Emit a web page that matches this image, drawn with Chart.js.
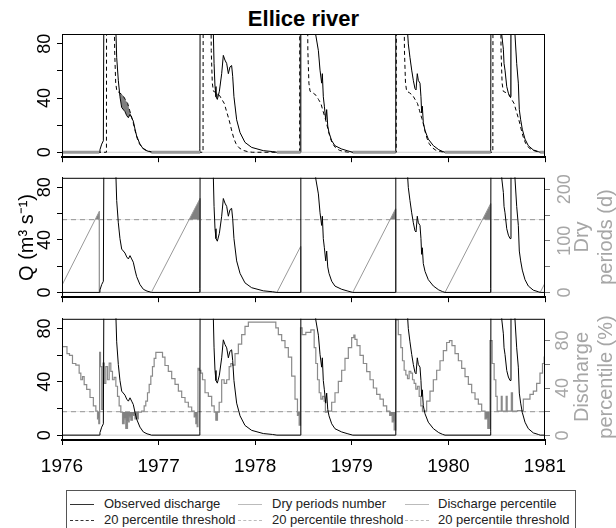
<!DOCTYPE html>
<html lang="en">
<head>
<meta charset="utf-8">
<title>Ellice river</title>
<script src="https://cdn.jsdelivr.net/npm/chart.js@4.4.1/dist/chart.umd.min.js"></script>
<style>
    html, body { margin: 0; padding: 0; background: #fff; }
    body { position: relative; width: 616px; height: 528px; overflow: hidden; font-family: "Liberation Sans", Arial, sans-serif; }
    canvas { position: absolute; left: 0; }
    #titulo { position: absolute; left: 62px; width: 483px; top: 6px; text-align: center; font-size: 22px; line-height: 26px; font-weight: bold; color: #000; }
    .titulo-der { position: absolute; width: 160px; height: 48px; font-size: 20px; line-height: 24px; color: #a6a6a6; text-align: center; white-space: nowrap; transform: rotate(-90deg); }
    #leyenda { position: absolute; left: 66px; top: 490px; width: 510px; height: 50px; border: 1px solid #555; box-sizing: border-box; font-size: 13px; color: #222; }
    .texto { position: absolute; line-height: 16px; white-space: nowrap; }
    .muestra { position: absolute; width: 24px; height: 0; }
</style>
</head>
<body>
<div id="titulo">Ellice river</div>
<canvas id="panel-caudal" width="616" height="170" style="top:0px"></canvas>
<canvas id="panel-seco" width="616" height="145" style="top:165px"></canvas>
<canvas id="panel-percentil" width="616" height="175" style="top:305px"></canvas>
<div class="titulo-der" style="left:513px; top:213px">Dry<br>periods (d)</div>
<div class="titulo-der" style="left:513px; top:353px">Discharge<br>percentile (%)</div>
<div id="leyenda">
    <div class="muestra" style="left:3px; top:13px; border-top:1px solid #333"></div>
    <div class="texto" style="left:37px; top:5px">Observed discharge</div>
    <div class="muestra" style="left:3px; top:29px; border-top:1px dashed #333"></div>
    <div class="texto" style="left:37px; top:21px">20 percentile threshold</div>
    <div class="muestra" style="left:171px; top:13px; border-top:1px solid #bbb"></div>
    <div class="texto" style="left:205px; top:5px">Dry periods number</div>
    <div class="muestra" style="left:171px; top:29px; border-top:1px dashed #bbb"></div>
    <div class="texto" style="left:205px; top:21px">20 percentile threshold</div>
    <div class="muestra" style="left:338px; top:13px; border-top:1px solid #bbb"></div>
    <div class="texto" style="left:371px; top:5px">Discharge percentile</div>
    <div class="muestra" style="left:338px; top:29px; border-top:1px dashed #bbb"></div>
    <div class="texto" style="left:371px; top:21px">20 percentile threshold</div>
</div>
<script>
// Ticks y etiquetas de los ejes
const ticksAnios = [1976, 1977, 1978, 1979, 1980, 1981];
const ticksCaudal = [0, 20, 40, 60, 80];
const etiquetasCaudal = [0, 40, 80];
const ticksDias = [0, 50, 100, 150, 200];
const etiquetasDias = [0, 100, 200];
const ticksPercentil = [0, 20, 40, 60, 80];
const etiquetasPercentil = [0, 40, 80];

// Umbrales
const umbralDias = 141;
const umbralPercentil = 20;

// Caudal observado (m3/s), años decimales
const fechasCaudal = [
    1976.000, 1976.386, 1976.393, 1976.411, 1976.428, 1976.436, 1976.555, 1976.559, 1976.566, 1976.583,
    1976.600, 1976.618, 1976.652, 1976.670, 1976.687, 1976.704, 1976.721, 1976.738, 1976.756, 1976.773,
    1976.807, 1976.842, 1976.880, 1976.911, 1976.925,
    1977.421, 1977.427, 1977.431, 1977.562, 1977.567, 1977.574, 1977.584, 1977.594, 1977.608, 1977.629,
    1977.653, 1977.670, 1977.687, 1977.705, 1977.722, 1977.739, 1977.756, 1977.767, 1977.780, 1977.808,
    1977.843, 1977.894, 1977.963, 1978.084, 1978.180, 1978.225,
    1978.468, 1978.471, 1978.474, 1978.620, 1978.626, 1978.654, 1978.671, 1978.688, 1978.695, 1978.705,
    1978.716, 1978.730, 1978.740, 1978.751, 1978.764, 1978.792, 1978.826, 1978.895, 1978.960, 1979.010,
    1979.451, 1979.454, 1979.457, 1979.574, 1979.579, 1979.585, 1979.602, 1979.620, 1979.637, 1979.654,
    1979.665, 1979.678, 1979.689, 1979.706, 1979.716, 1979.723, 1979.730, 1979.740, 1979.758, 1979.792,
    1979.844, 1979.900, 1979.940, 1979.965,
    1980.435, 1980.438, 1980.441, 1980.547, 1980.552, 1980.569, 1980.576, 1980.586, 1980.604, 1980.621,
    1980.638, 1980.648, 1980.684, 1980.689, 1980.707, 1980.724, 1980.734, 1980.748, 1980.765, 1980.793,
    1980.827, 1980.879, 1980.931, 1980.950, 1981.000
];
const caudalObservado = [
    0, 0, 1.9, 6, 8.5, 150, 150, 87, 70, 53,
    41, 33, 30, 27, 25.5, 28, 25.5, 23, 17, 12,
    6, 2.4, 1, 0.4, 0,
    0, 3, 150, 150, 87, 65.5, 48.5, 41, 39, 45,
    58, 71.5, 68, 65.5, 58, 63, 64, 56, 41, 24,
    14.5, 7.3, 3.6, 1.2, 0.5, 0,
    0, 3, 150, 150, 87, 75, 60.6, 51, 58, 41,
    34, 24, 31.5, 19.4, 14.5, 8.5, 4.8, 2.4, 1, 0,
    0, 3, 150, 150, 87, 80, 70, 60.6, 53, 47,
    46, 58, 53, 51, 41, 29, 34, 22, 16, 9.7,
    4.9, 1.9, 0.6, 0,
    0, 3, 150, 150, 87, 76, 65.5, 60.6, 48.5, 43.6,
    41, 150, 150, 87, 65.5, 51, 31.5, 24, 17, 9.7,
    4.9, 1.7, 0.5, 0, 0
];

// Umbral del percentil 20 (caudal diario)
const fechasUmbral = [
    1976.000, 1976.460, 1976.462, 1976.538, 1976.545, 1976.549, 1976.556, 1976.568, 1976.595, 1976.630, 1976.655,
    1976.680, 1976.700, 1976.725, 1976.740, 1976.760, 1976.780, 1976.800, 1976.830, 1976.870, 1976.920, 1976.970,
    1977.460, 1977.462, 1977.538, 1977.545, 1977.549, 1977.556, 1977.568, 1977.595, 1977.630, 1977.655,
    1977.680, 1977.700, 1977.725, 1977.740, 1977.760, 1977.780, 1977.800, 1977.830, 1977.870, 1977.920, 1977.970,
    1978.460, 1978.462, 1978.538, 1978.545, 1978.549, 1978.556, 1978.568, 1978.595, 1978.630, 1978.655,
    1978.680, 1978.700, 1978.725, 1978.740, 1978.760, 1978.780, 1978.800, 1978.830, 1978.870, 1978.920, 1978.970,
    1979.460, 1979.462, 1979.538, 1979.545, 1979.549, 1979.556, 1979.568, 1979.595, 1979.630, 1979.655,
    1979.680, 1979.700, 1979.725, 1979.740, 1979.760, 1979.780, 1979.800, 1979.830, 1979.870, 1979.920, 1979.970,
    1980.460, 1980.462, 1980.538, 1980.545, 1980.549, 1980.556, 1980.568, 1980.595, 1980.630, 1980.655,
    1980.680, 1980.700, 1980.725, 1980.740, 1980.760, 1980.780, 1980.800, 1980.830, 1980.870, 1980.920, 1980.970,
    1981.000
];
const umbralCaudal = [
    0, 0, 150, 150, 75, 66, 51, 45, 44, 42, 39,
    36, 31, 25, 21, 15, 10, 6.5, 3.5, 1.5, 0.5, 0,
    0, 150, 150, 75, 66, 51, 45, 44, 42, 39,
    36, 31, 25, 21, 15, 10, 6.5, 3.5, 1.5, 0.5, 0,
    0, 150, 150, 75, 66, 51, 45, 44, 42, 39,
    36, 31, 25, 21, 15, 10, 6.5, 3.5, 1.5, 0.5, 0,
    0, 150, 150, 75, 66, 51, 45, 44, 42, 39,
    36, 31, 25, 21, 15, 10, 6.5, 3.5, 1.5, 0.5, 0,
    0, 150, 150, 75, 66, 51, 45, 44, 42, 39,
    36, 31, 25, 21, 15, 10, 6.5, 3.5, 1.5, 0.5, 0,
    0
];

// Número de días del periodo seco
const fechasSeco = [
    1976.000, 1976.386, 1976.387, 1976.925, 1977.429, 1977.430, 1978.225, 1978.470, 1978.471,
    1979.010, 1979.453, 1979.454, 1979.965, 1980.437, 1980.438, 1980.950, 1981.000
];
const diasSecos = [
    14, 157, 0, 0, 182, 0, 0, 89, 0,
    0, 162, 0, 0, 172, 0, 0, 18
];

// Tramos con caudal cero (panel superior)
const inicioCero = [1976.000, 1976.925, 1978.225, 1979.010, 1979.965, 1980.950];
const finCero = [1976.386, 1977.430, 1978.470, 1979.454, 1980.438, 1981.000];

// Percentil del caudal (%)
const fechasPercentil = [
    1976.000, 1976.048, 1976.055, 1976.100, 1976.117, 1976.169, 1976.186, 1976.204, 1976.221, 1976.238,
    1976.273, 1976.307, 1976.342, 1976.359, 1976.376, 1976.386, 1976.393, 1976.404, 1976.418, 1976.431,
    1976.445, 1976.462, 1976.480, 1976.497, 1976.514, 1976.531, 1976.549, 1976.566, 1976.583, 1976.600,
    1976.618, 1976.635, 1976.652, 1976.669, 1976.687, 1976.704, 1976.721, 1976.738, 1976.773, 1976.807,
    1976.842, 1976.859, 1976.876, 1976.894, 1976.911, 1976.928, 1976.945, 1976.963, 1976.980, 1977.032,
    1977.049, 1977.083, 1977.118, 1977.153, 1977.187, 1977.222, 1977.256, 1977.291, 1977.325, 1977.360,
    1977.377, 1977.394, 1977.404, 1977.411, 1977.429, 1977.446, 1977.463, 1977.498, 1977.532, 1977.567,
    1977.584, 1977.601, 1977.618, 1977.636, 1977.670, 1977.687, 1977.722, 1977.739, 1977.756, 1977.774,
    1977.808, 1977.843, 1977.877, 1977.912, 1977.946, 1978.205, 1978.222, 1978.257, 1978.291, 1978.326,
    1978.360, 1978.395, 1978.429, 1978.446, 1978.464, 1978.474, 1978.498, 1978.550, 1978.602, 1978.619,
    1978.636, 1978.654, 1978.671, 1978.688, 1978.705, 1978.723, 1978.730, 1978.757, 1978.774, 1978.809,
    1978.843, 1978.878, 1978.912, 1978.947, 1978.981, 1979.016, 1979.026, 1979.040, 1979.068, 1979.102,
    1979.137, 1979.171, 1979.206, 1979.240, 1979.275, 1979.309, 1979.344, 1979.378, 1979.406, 1979.430,
    1979.447, 1979.464, 1979.499, 1979.516, 1979.533, 1979.551, 1979.568, 1979.585, 1979.602, 1979.620,
    1979.637, 1979.654, 1979.671, 1979.689, 1979.706, 1979.723, 1979.740, 1979.758, 1979.792, 1979.827,
    1979.861, 1979.896, 1979.930, 1979.965, 1979.999, 1980.023, 1980.051, 1980.086, 1980.120, 1980.155,
    1980.189, 1980.224, 1980.258, 1980.293, 1980.327, 1980.362, 1980.396, 1980.420, 1980.441, 1980.465,
    1980.482, 1980.500, 1980.510, 1980.544, 1980.551, 1980.562, 1980.593, 1980.603, 1980.614, 1980.648,
    1980.655, 1980.672, 1980.759, 1980.793, 1980.827, 1980.862, 1980.896, 1980.931, 1980.965, 1980.983,
    1981.000
];
const percentilCaudal = [
    75, 75, 69, 67.5, 60.7, 59.3, 52.5, 47, 49.7, 42.9,
    38.8, 32, 25, 20.5, 14, 10, 70, 58, 22, 61,
    44, 58, 47, 61, 54, 47, 49, 41.5, 33, 25,
    19.7, 10, 14, 6, 11.5, 15.6, 12.8, 17, 14, 19.7,
    20.5, 25, 29, 36, 43, 50, 58, 65, 70, 70,
    66, 59, 54, 48, 43, 37.4, 32, 28, 24, 20.5,
    15.6, 10, 7.4, 56.6, 55, 52.5, 47, 36, 33, 25,
    19.7, 12.8, 19.7, 28, 47, 44, 47, 58, 60.7, 59.3,
    69, 77, 85, 92, 95.6, 95.6, 90.7, 85, 80, 74,
    66, 50, 30.6, 17, 8.7, 90.7, 85, 87, 89, 74,
    60.7, 47, 36, 30.6, 33, 29, 19.7, 20.5, 20.5, 28,
    36, 45.6, 55, 65, 74, 82.5, 84.7, 81, 75.7, 67.5,
    60.7, 53.8, 47, 40, 34.7, 30.6, 25, 20.5, 17, 11.5,
    4.6, 97.5, 85, 74, 63, 55, 51, 48, 54, 52.5,
    47, 44, 39, 41.5, 33, 25, 20.5, 20.5, 29, 37.4,
    47, 55, 63, 71.6, 78.4, 80, 75.7, 69, 63, 56.6,
    49.7, 43, 36, 30.6, 26.5, 20.5, 14, 6, 80, 60.7,
    47, 33, 20.5, 20.5, 33, 20.5, 20.5, 33, 20.5, 20.5,
    36, 20.5, 21, 30.6, 30.6, 34.7, 37.4, 44, 52.5, 60.7,
    66
];

Chart.defaults.font.family = '"Liberation Sans", Arial, sans-serif';
Chart.defaults.animation = false;

const GRIS_RELLENO = '#808080';
const TRANSPARENTE = 'rgba(0,0,0,0)';

// Convierte dos arreglos en puntos {x, y}
function puntos(xs, ys) {
    return xs.map((x, i) => ({ x: x, y: ys[i] }));
}

// Tramos horizontales en cero separados por huecos
function tramosCero() {
    const datos = [];
    inicioCero.forEach((inicio, i) => {
        datos.push({ x: inicio, y: 0 }, { x: finCero[i], y: 0 }, { x: finCero[i], y: null });
    });
    return datos;
}

function lineaHorizontal(valor) {
    return [{ x: ticksAnios[0], y: valor }, { x: ticksAnios[ticksAnios.length - 1], y: valor }];
}

// Marco alrededor del área del gráfico
const marco = {
    id: 'marco',
    afterDatasetsDraw(chart) {
        const a = chart.chartArea;
        const ctx = chart.ctx;
        ctx.save();
        ctx.strokeStyle = '#000';
        ctx.lineWidth = 1;
        ctx.strokeRect(a.left + 0.5, a.top + 0.5, a.right - a.left - 1, a.bottom - a.top - 0.5);
        ctx.restore();
    }
};

function ejeX(conEtiquetas, alto) {
    return {
        type: 'linear',
        min: 1976,
        max: 1981,
        afterBuildTicks: s => { s.ticks = ticksAnios.map(v => ({ value: v })); },
        afterFit: s => { s.height = alto; },
        grid: { drawOnChartArea: false, drawTicks: true, tickLength: 5, color: '#000' },
        border: { display: true, color: '#000', width: 2 },
        ticks: {
            display: conEtiquetas,
            autoSkip: false,
            maxRotation: 0,
            padding: 10,
            color: '#000',
            font: { size: 19 },
            callback: v => String(v)
        }
    };
}

function ejeCaudal(conTitulo) {
    return {
        position: 'left',
        min: -3.64,
        max: 87.27,
        afterBuildTicks: s => { s.ticks = ticksCaudal.map(v => ({ value: v })); },
        afterFit: s => { s.width = 62; },
        grid: { drawOnChartArea: false, tickLength: 5, color: '#000' },
        border: { color: '#000' },
        ticks: {
            autoSkip: false,
            minRotation: 90,
            maxRotation: 90,
            crossAlign: 'center',
            padding: 2,
            color: '#000',
            font: { size: 18 },
            callback: v => etiquetasCaudal.includes(v) ? String(v) : ''
        },
        title: {
            display: conTitulo,
            text: 'Q (m³ s⁻¹)',
            color: '#000',
            font: { size: 20 },
            padding: { top: 15, bottom: 0 }
        }
    };
}

function ejeDerecho(min, max, ticks, etiquetas, relleno) {
    return {
        position: 'right',
        min: min,
        max: max,
        afterBuildTicks: s => { s.ticks = ticks.map(v => ({ value: v })); },
        afterFit: s => { s.width = 71; },
        grid: { drawOnChartArea: false, tickLength: 5, color: '#777' },
        border: { display: false },
        ticks: {
            autoSkip: false,
            minRotation: 90,
            maxRotation: 90,
            crossAlign: 'center',
            padding: relleno,
            color: '#a6a6a6',
            font: { size: 18 },
            callback: v => etiquetas.includes(v) ? String(v) : ''
        }
    };
}

function datasetCaudal() {
    return {
        data: puntos(fechasCaudal, caudalObservado),
        borderColor: '#000',
        borderWidth: 1,
        pointRadius: 0,
        fill: false,
        yAxisID: 'y',
        order: 0
    };
}

const opcionesBase = {
    responsive: false,
    animation: false,
    events: [],
    plugins: { legend: { display: false }, tooltip: { enabled: false } }
};

// Panel 1: caudal observado y umbral variable
new Chart(document.getElementById('panel-caudal'), {
    type: 'line',
    data: {
        datasets: [
            datasetCaudal(),
            {
                data: tramosCero(),
                borderColor: '#999',
                borderWidth: 3,
                pointRadius: 0,
                spanGaps: false,
                fill: false,
                order: -1
            },
            {
                data: puntos(fechasUmbral, umbralCaudal),
                borderColor: '#000',
                borderWidth: 1,
                borderDash: [4, 3],
                pointRadius: 0,
                fill: { target: 0, above: GRIS_RELLENO, below: TRANSPARENTE },
                order: 1
            },
            {
                data: lineaHorizontal(0),
                borderColor: '#cfcfcf',
                borderWidth: 1,
                pointRadius: 0,
                fill: false,
                order: 2
            }
        ]
    },
    options: {
        ...opcionesBase,
        layout: { padding: { top: 34, right: 71, left: 0, bottom: 0 } },
        scales: { x: ejeX(false, 11), y: ejeCaudal(false) }
    },
    plugins: [marco]
});

// Panel 2: número de días secos
new Chart(document.getElementById('panel-seco'), {
    type: 'line',
    data: {
        datasets: [
            datasetCaudal(),
            {
                data: puntos(fechasSeco, diasSecos),
                borderColor: '#999',
                borderWidth: 1,
                pointRadius: 0,
                yAxisID: 'y2',
                fill: { target: { value: umbralDias }, above: GRIS_RELLENO, below: TRANSPARENTE },
                order: 1
            },
            {
                data: lineaHorizontal(umbralDias),
                borderColor: '#999',
                borderWidth: 1,
                borderDash: [5, 4],
                pointRadius: 0,
                yAxisID: 'y2',
                fill: false,
                order: 2
            }
        ]
    },
    options: {
        ...opcionesBase,
        layout: { padding: { top: 10, right: 0, left: 0, bottom: 0 } },
        scales: {
            x: ejeX(false, 10),
            y: ejeCaudal(true),
            y2: ejeDerecho(-9.3, 222.2, ticksDias, etiquetasDias, 0)
        }
    },
    plugins: [marco]
});

// Panel 3: percentil del caudal
new Chart(document.getElementById('panel-percentil'), {
    type: 'line',
    data: {
        datasets: [
            datasetCaudal(),
            {
                data: puntos(fechasPercentil, percentilCaudal),
                borderColor: '#8a8a8a',
                borderWidth: 1.2,
                pointRadius: 0,
                stepped: 'middle',
                yAxisID: 'y2',
                fill: { target: { value: umbralPercentil }, above: TRANSPARENTE, below: GRIS_RELLENO },
                order: 1
            },
            {
                data: lineaHorizontal(umbralPercentil),
                borderColor: '#999',
                borderWidth: 1,
                borderDash: [5, 4],
                pointRadius: 0,
                yAxisID: 'y2',
                fill: false,
                order: 2
            },
            {
                data: lineaHorizontal(0),
                borderColor: '#cfcfcf',
                borderWidth: 1,
                pointRadius: 0,
                fill: false,
                order: 3
            }
        ]
    },
    options: {
        ...opcionesBase,
        layout: { padding: { top: 10, right: 0, left: 0, bottom: 0 } },
        scales: {
            x: ejeX(true, 40),
            y: ejeCaudal(false),
            y2: ejeDerecho(-3.85, 98.4, ticksPercentil, etiquetasPercentil, 3)
        }
    },
    plugins: [marco]
});
</script>
</body>
</html>
